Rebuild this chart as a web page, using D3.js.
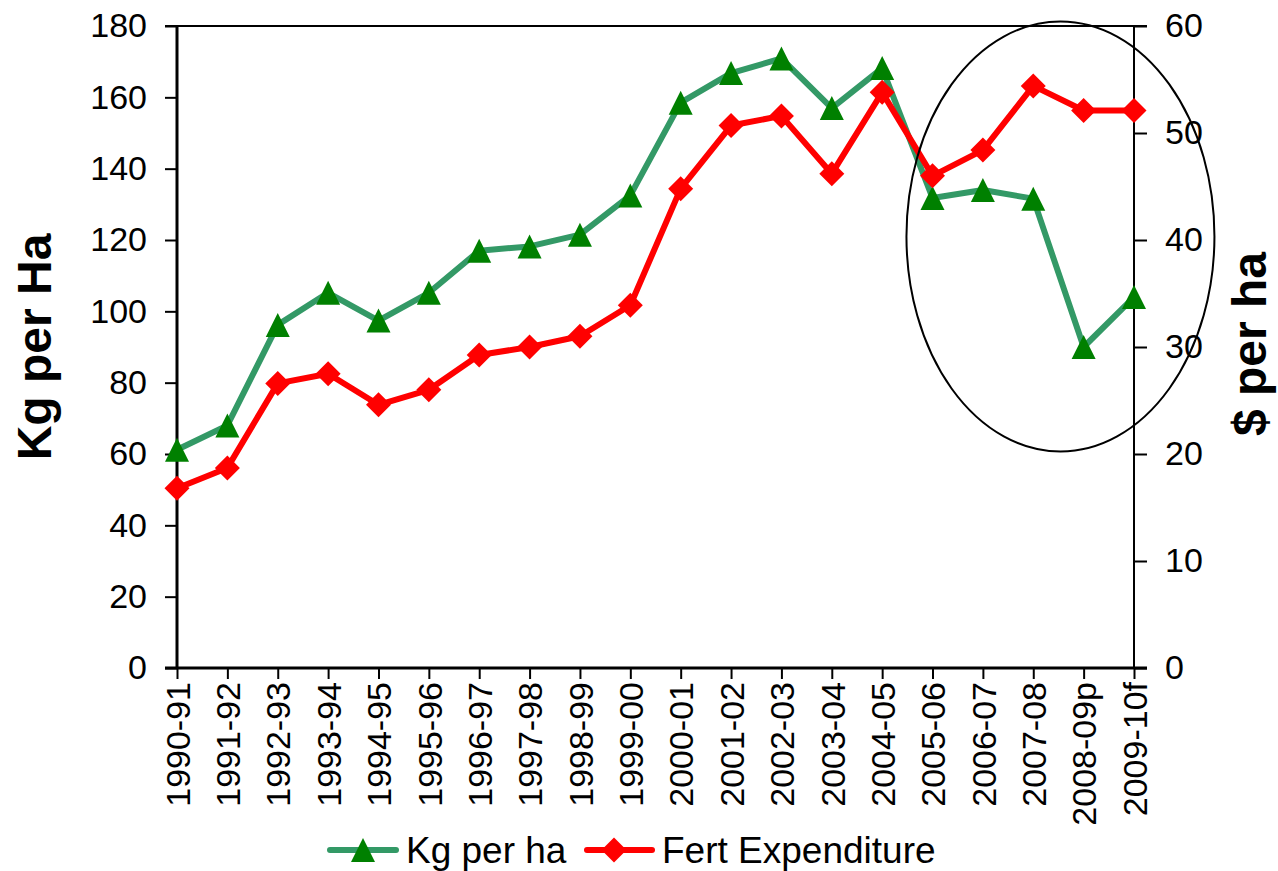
<!DOCTYPE html>
<html>
<head>
<meta charset="utf-8">
<script src="https://cdn.jsdelivr.net/npm/d3@7"></script>
<style>
  html, body { margin: 0; padding: 0; background: #ffffff; }
  svg { display: block; }
  text { font-family: Arial, "Liberation Sans", sans-serif; fill: #000; }
</style>
</head>
<body>
<svg id="chart" width="1278" height="871"></svg>
<script>
// ---- Data ----
const categories = ["1990-91","1991-92","1992-93","1993-94","1994-95","1995-96","1996-97","1997-98","1998-99","1999-00","2000-01","2001-02","2002-03","2003-04","2004-05","2005-06","2006-07","2007-08","2008-09p","2009-10f"];
const kgPerHa = [61.2, 68, 96.2, 105.2, 97.4, 105.2, 117, 118.2, 121.5, 132.5, 158.5, 166.8, 170.9, 157, 168.2, 131.8, 134, 131.6, 90, 104];
const fertExpenditure = [16.8, 18.7, 26.6, 27.5, 24.6, 26.0, 29.25, 30.0, 31.0, 33.9, 44.8, 50.7, 51.6, 46.2, 53.8, 46.0, 48.4, 54.4, 52.1, 52.1];
const leftTicks = [0, 20, 40, 60, 80, 100, 120, 140, 160, 180];
const rightTicks = [0, 10, 20, 30, 40, 50, 60];
const seriesNames = ["Kg per ha", "Fert Expenditure"];
const leftTitle = "Kg per Ha";
const rightTitle = "$ per ha";

// ---- Layout ----
const L = 177, R = 1134, T = 26, B = 668;
const svg = d3.select("#chart");

const x = d3.scalePoint().domain(categories).range([L, R]).padding(0);
const yL = d3.scaleLinear().domain([0, 180]).range([B, T]);
const yR = d3.scaleLinear().domain([0, 60]).range([B, T]);

const greenLine = "#339966", greenMark = "#008000", red = "#ff0000";

// top border
svg.append("line").attr("x1", 165).attr("x2", 1147).attr("y1", T).attr("y2", T)
  .attr("stroke", "#000").attr("stroke-width", 2);

// Left axis
const gL = svg.append("g").attr("transform", `translate(${L},0)`)
  .call(d3.axisLeft(yL).tickValues(leftTicks).tickSize(12).tickPadding(18).tickSizeOuter(0));
gL.select(".domain").remove();
gL.selectAll(".tick line").attr("stroke", "#000").attr("stroke-width", 2);
gL.selectAll(".tick text").attr("font-size", 34).attr("font-family", "Arial, 'Liberation Sans', sans-serif");
svg.append("line").attr("x1", L).attr("x2", L).attr("y1", T).attr("y2", B + 1)
  .attr("stroke", "#000").attr("stroke-width", 3);

// Right axis
const gR = svg.append("g").attr("transform", `translate(${R},0)`)
  .call(d3.axisRight(yR).tickValues(rightTicks).tickSize(13).tickPadding(18).tickSizeOuter(0));
gR.select(".domain").remove();
gR.selectAll(".tick line").attr("stroke", "#000").attr("stroke-width", 2);
gR.selectAll(".tick text").attr("font-size", 34).attr("font-family", "Arial, 'Liberation Sans', sans-serif");
svg.append("line").attr("x1", R).attr("x2", R).attr("y1", T).attr("y2", B)
  .attr("stroke", "#000").attr("stroke-width", 2);

// Bottom axis
const gB = svg.append("g").attr("transform", `translate(0,${B})`)
  .call(d3.axisBottom(x).tickSize(11).tickSizeOuter(0));
gB.select(".domain").remove();
gB.selectAll(".tick line").attr("stroke", "#000").attr("stroke-width", 2);
gB.selectAll(".tick text")
  .attr("font-size", 34).attr("font-family", "Arial, 'Liberation Sans', sans-serif")
  .attr("transform", "rotate(-90)")
  .attr("text-anchor", "end")
  .attr("x", -14).attr("y", 0).attr("dy", "0.36em");
svg.append("line").attr("x1", 165).attr("x2", 1147).attr("y1", B).attr("y2", B)
  .attr("stroke", "#000").attr("stroke-width", 3);

// Axis titles
svg.append("text").attr("transform", "translate(51,347) rotate(-90)")
  .attr("text-anchor", "middle").attr("font-size", 48).attr("font-weight", "bold").text(leftTitle);
svg.append("text").attr("transform", "translate(1266,344) rotate(-90)")
  .attr("text-anchor", "middle").attr("font-size", 48).attr("font-weight", "bold").text(rightTitle);

// Markers
const triPath = "M0,-12L12,12L-12,12Z";
const diaPath = "M0,-12.5L12.5,0L0,12.5L-12.5,0Z";

// Green series
const lineG = d3.line().x((d, i) => x(categories[i])).y(d => yL(d));
svg.append("path").datum(kgPerHa).attr("d", lineG)
  .attr("fill", "none").attr("stroke", greenLine).attr("stroke-width", 6)
  .attr("stroke-linejoin", "round").attr("stroke-linecap", "round");
svg.append("g").selectAll("path").data(kgPerHa).join("path")
  .attr("d", triPath)
  .attr("transform", (d, i) => `translate(${x(categories[i])},${yL(d)})`)
  .attr("fill", greenMark);

// Red series
const lineR = d3.line().x((d, i) => x(categories[i])).y(d => yR(d));
svg.append("path").datum(fertExpenditure).attr("d", lineR)
  .attr("fill", "none").attr("stroke", red).attr("stroke-width", 6)
  .attr("stroke-linejoin", "round").attr("stroke-linecap", "round");
svg.append("g").selectAll("path").data(fertExpenditure).join("path")
  .attr("d", diaPath)
  .attr("transform", (d, i) => `translate(${x(categories[i])},${yR(d)})`)
  .attr("fill", red);

// Annotation ellipse
const ecx = (x("2007-08") + x("2008-09p")) / 2 + 2;
const ecy = yL(121);
svg.append("ellipse").attr("cx", ecx).attr("cy", ecy).attr("rx", 154).attr("ry", 215)
  .attr("fill", "none").attr("stroke", "#000").attr("stroke-width", 2);

// Legend
const lg = svg.append("g");
const ly = 850;
lg.append("line").attr("x1", 330).attr("x2", 396).attr("y1", ly).attr("y2", ly)
  .attr("stroke", greenLine).attr("stroke-width", 6).attr("stroke-linecap", "round");
lg.append("path").attr("d", triPath).attr("transform", `translate(363,${ly})`).attr("fill", greenMark);
lg.append("text").attr("x", 406).attr("y", 863).attr("font-size", 37).text(seriesNames[0]);
lg.append("line").attr("x1", 587).attr("x2", 652).attr("y1", ly).attr("y2", ly)
  .attr("stroke", red).attr("stroke-width", 6).attr("stroke-linecap", "round");
lg.append("path").attr("d", diaPath).attr("transform", `translate(614,${ly})`).attr("fill", red);
lg.append("text").attr("x", 662).attr("y", 863).attr("font-size", 37).text(seriesNames[1]);
</script>
</body>
</html>
